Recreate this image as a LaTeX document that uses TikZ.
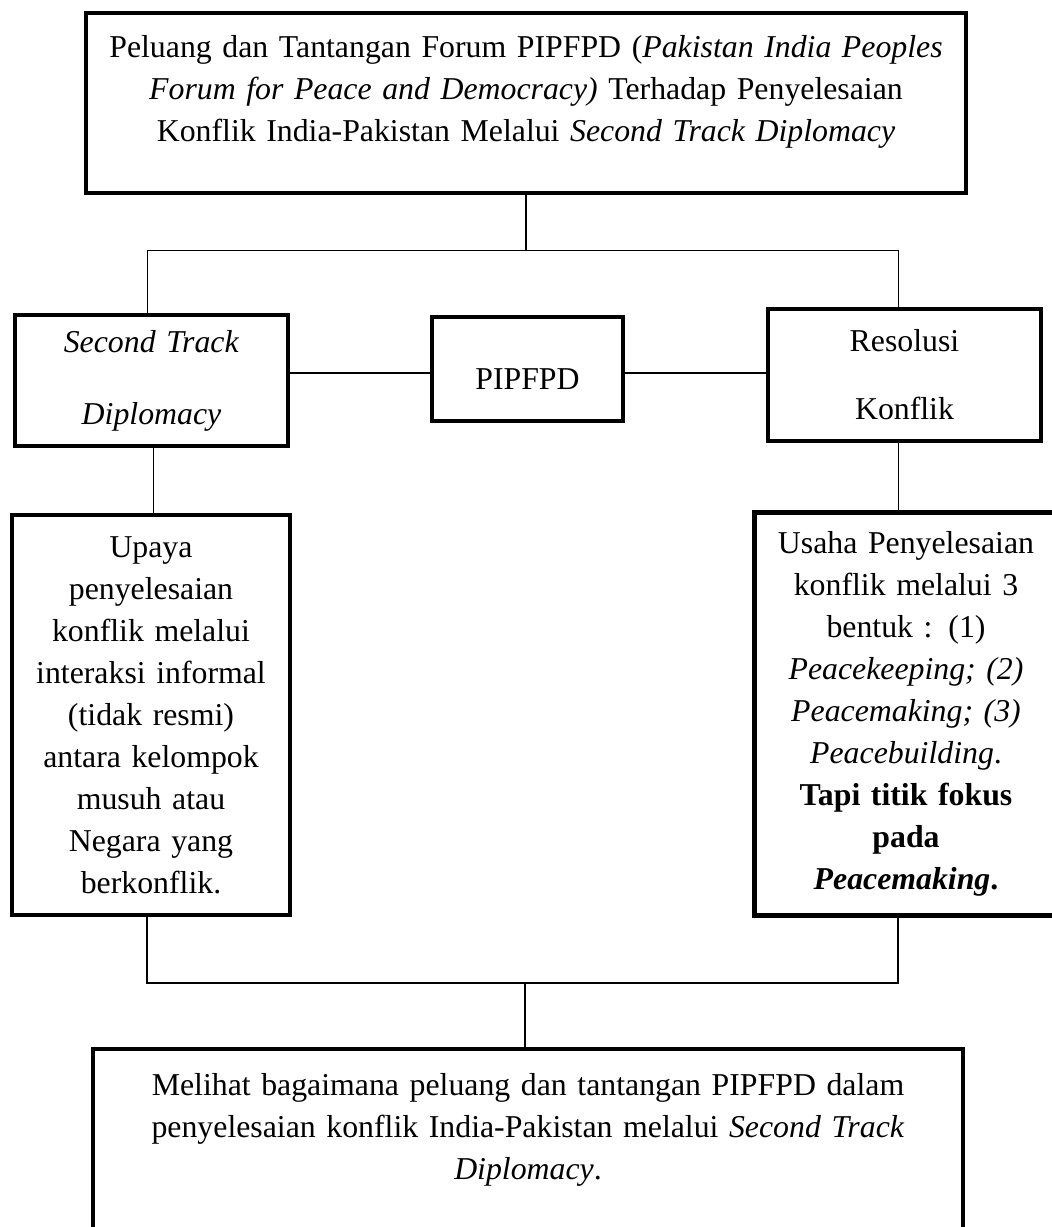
\documentclass[tikz,border=0pt]{standalone}
\usepackage{fontspec}
\setmainfont{Liberation Serif}

\begin{document}
\begin{tikzpicture}[x=0.5pt,y=-0.5pt]
\tikzstyle{every node}=[font=\fontsize{15.9}{21}\selectfont]
\tikzstyle{kotak}=[draw,line width=2.2pt,align=center,inner sep=0pt]
\tikzstyle{garis}=[line width=0.75pt]
\useasboundingbox (0,0) rectangle (1051,1227);

\node[kotak,anchor=north,minimum width=440pt,text width=430pt,text height=22pt,text depth=68pt](judul) at (526,11)
{Peluang dan Tantangan Forum PIPFPD (\textit{Pakistan India Peoples}\\
\textit{Forum for Peace and Democracy)} Terhadap Penyelesaian\\
Konflik India-Pakistan Melalui \textit{Second Track Diplomacy}};

\node[kotak,minimum width=136.5pt,minimum height=65.5pt,text width=130pt](std) at (151.5,380.5)
{\textit{Second Track}\\[15pt]\textit{Diplomacy}};
\node[kotak,minimum width=95.5pt,minimum height=52pt,text height=20.5pt,text depth=0pt](pip) at (527.5,369) {PIPFPD};
\node[kotak,minimum width=136.5pt,minimum height=66pt,text width=130pt](rk) at (904.5,375)
{Resolusi\\[13pt]Konflik};

\node[kotak,minimum width=139pt,minimum height=200pt,text width=132pt](kiri) at (151,715)
{Upaya\\ penyelesaian\\ konflik melalui\\ interaksi informal\\ (tidak resmi)\\ antara kelompok\\ musuh atau\\ Negara yang\\ berkonflik.};
\node[kotak,minimum width=151.5pt,minimum height=201.5pt,text width=145pt](kanan) at (906,714)
{Usaha Penyelesaian\\ konflik melalui 3\\ bentuk : (1)\\ \textit{Peacekeeping; (2)}\\ \textit{Peacemaking; (3)}\\
\textit{Peacebuilding}.\\ \textbf{Tapi titik fokus}\\ \textbf{pada}\\ \textbf{\textit{Peacemaking}.}};

\node[kotak,anchor=north,minimum width=435pt,text width=425pt,text height=23pt,text depth=84pt](bawah) at (528,1047)
{Melihat bagaimana peluang dan tantangan PIPFPD dalam\\
penyelesaian konflik India-Pakistan melalui \textit{Second Track}\\
\textit{Diplomacy}.};

\draw[garis] (judul.south) -- ++(0,55) coordinate (cabang);
\draw[garis] ([xshift=-2pt]std.north) |- (cabang) -| ([xshift=-3pt]rk.north);
\draw[garis] ([yshift=-2pt]pip.west) -- ([yshift=-2pt]pip.west -| std.east);
\draw[garis] ([yshift=-2pt]pip.east) -- ([yshift=-2pt]pip.east -| rk.west);
\draw[garis] ([xshift=1pt]std.south) -- ([xshift=1pt]std.south |- kiri.north);
\draw[garis] ([xshift=-3pt]rk.south) -- ([xshift=-3pt]rk.south |- kanan.north);
\coordinate (gabung) at (525,983);
\draw[garis] ([xshift=-2pt]kiri.south) |- (gabung) -| ([xshift=-4pt]kanan.south);
\draw[garis] (gabung) -- (gabung |- bawah.north);

\end{tikzpicture}
\end{document}
